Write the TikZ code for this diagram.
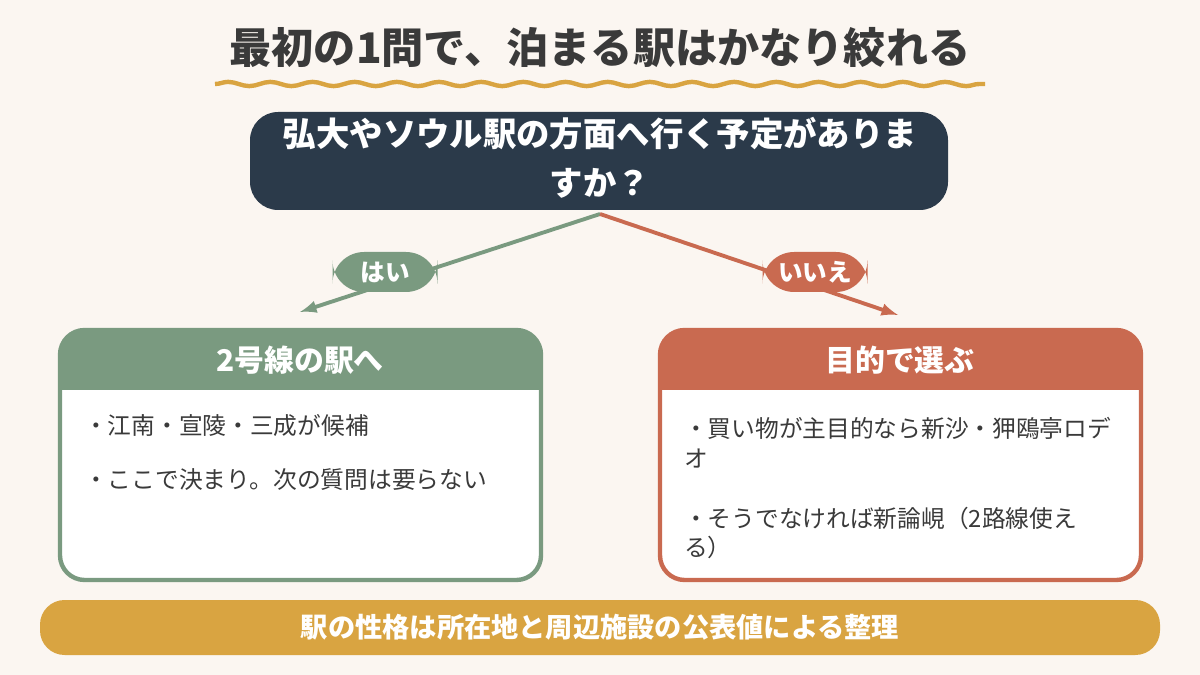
\documentclass[tikz,border=0pt]{standalone}
\usepackage{fontspec}
\setmainfont{Noto Sans CJK JP}
\usetikzlibrary{decorations.pathmorphing}
\definecolor{paper}{HTML}{FBF6F1}
\definecolor{ink}{HTML}{3A3A3A}
\definecolor{navy}{HTML}{2B3A4A}
\definecolor{sage}{HTML}{7A9A80}
\definecolor{rust}{HTML}{C96A50}
\definecolor{gold}{HTML}{D9A441}
\tikzset{
  pill/.style = {fill=#1, text=white, rounded corners=18, minimum width=105*0.02cm,
    minimum height=40*0.02cm, font=\fontsize{14}{16}\selectfont\bfseries},
  bullet/.style = {anchor=west, text=ink, font=\fontsize{13.5}{17}\selectfont},
  head/.style = {text=white, font=\fontsize{17}{20}\selectfont\bfseries}
}
\tikzset{>=latex}
\begin{document}
\begin{tikzpicture}[x=0.02cm,y=-0.02cm]
  \useasboundingbox (0,0) rectangle (1200,675);
  \fill[paper] (0,0) rectangle (1200,675);
  \node[text=ink, font=\fontsize{24}{28}\selectfont\bfseries] (title) at (600,48) {最初の1問で、泊まる駅はかなり絞れる};
  \draw[gold, line width=2.5pt, decorate, decoration={snake, amplitude=1.2pt, segment length=24pt}] (215,84) -- (985,84);
  \fill[navy, rounded corners=16] (250,112) rectangle (948,210);
  \node[text=white, align=center, font=\fontsize{19}{28}\selectfont\bfseries] (question) at (600,158)
    {弘大やソウル駅の方面へ行く予定がありま\\すか？};
  \coordinate (split) at (600,214);
  \coordinate (yesend) at (300,312);
  \coordinate (noend) at (898,315);
  \draw[->, sage, line width=2.2pt] (split) -- (yesend);
  \draw[->, rust, line width=2.2pt] (split) -- (noend);
  \node[pill=sage] (yes) at (385,272) {はい};
  \node[pill=rust] (no) at (815,272) {いいえ};
  % left card
  \draw[sage, fill=white, line width=2.5pt, rounded corners=14] (60,330) rectangle (541,580);
  \fill[sage, rounded corners=14] (60,330) rectangle (541,390);
  \fill[sage] (60,370) rectangle (541,390);
  \node[head] (lhead) at (300,360) {2号線の駅へ};
  \node[bullet] (l1) at (78,425) {・江南・宣陵・三成が候補};
  \node[bullet] (l2) at (78,480) {・ここで決まり。次の質問は要らない};
  % right card
  \draw[rust, fill=white, line width=2.5pt, rounded corners=14] (660,330) rectangle (1141,580);
  \fill[rust, rounded corners=14] (660,330) rectangle (1141,390);
  \fill[rust] (660,370) rectangle (1141,390);
  \node[head] (rhead) at (900,360) {目的で選ぶ};
  \node[bullet, align=left] (r1) at (678,443) {・買い物が主目的なら新沙・狎鴎亭ロデ\\オ};
  \node[bullet, align=left] (r2) at (678,533) {・そうでなければ新論峴（2路線使え\\る）};
  % footer
  \fill[gold, rounded corners=14] (40,600) rectangle (1160,655);
  \node[text=white, font=\fontsize{15.5}{18}\selectfont\bfseries] (note) at (600,627)
    {駅の性格は所在地と周辺施設の公表値による整理};
\end{tikzpicture}
\end{document}
